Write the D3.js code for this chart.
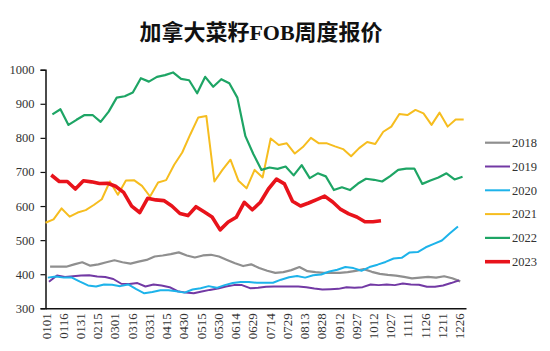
<!DOCTYPE html>
<html>
<head>
<meta charset="utf-8">
<script src="https://cdn.jsdelivr.net/npm/d3@7/dist/d3.min.js"></script>
<style>
    body { margin: 0; background: #fff; }
    .axis text { font-family: "Liberation Serif", "DejaVu Serif", serif; fill: #333; }
    .title { font-family: "Liberation Serif", "Noto Sans CJK SC", serif; font-weight: bold; }
    .legend text { font-family: "Liberation Serif", serif; fill: #333; }
</style>
</head>
<body>
<div id="chart"></div>
<script>
// 周度报价，每年的每个周五一个点
var years = [2018, 2019, 2020, 2021, 2022, 2023];

var price2018 = [422, 422, 422, 429, 435, 425, 429, 435, 441, 435, 431, 437, 442, 452, 455, 459, 464, 455, 449, 455,
    457, 452, 442, 432, 424, 429, 418, 410, 404, 406, 412, 421, 409, 406, 404, 404, 404, 406, 410, 415,
    407, 401, 398, 396, 392, 388, 390, 392, 390, 394, 388, 379];
var price2019 = [378, 396, 392, 394, 396, 397, 393, 392, 386, 372, 371, 374, 364, 370, 367, 362, 350, 346, 344, 349,
    354, 358, 364, 368, 368, 359, 360, 363, 364, 364, 364, 364, 362, 358, 355, 356, 357, 362, 360, 362,
    370, 368, 370, 368, 373, 370, 369, 363, 363, 367, 374, 382];
var price2020 = [390, 393, 390, 390, 378, 367, 364, 370, 369, 365, 370, 356, 344, 348, 353, 353, 350, 346, 355, 359,
    365, 360, 368, 374, 377, 377, 375, 375, 375, 384, 391, 395, 390, 397, 399, 408, 413, 421, 418, 410,
    421, 428, 436, 446, 448, 464, 465, 479, 489, 499, 520, 540];
var price2021 = [551, 561, 593, 569, 581, 588, 603, 620, 672, 633, 675, 676, 659, 628, 669, 676, 721, 757, 810, 860,
    864, 672, 706, 736, 674, 652, 706, 684, 798, 779, 784, 754, 773, 800, 784, 784, 775, 767, 746, 770,
    788, 782, 818, 833, 870, 867, 882, 872, 838, 874, 833, 854, 854];
var price2022 = [869, 884, 838, 853, 867, 867, 847, 877, 918, 922, 933, 975, 965, 979, 984, 992, 973, 969, 931, 979,
    950, 972, 960, 918, 805, 752, 706, 713, 709, 716, 690, 720, 682, 696, 687, 647, 655, 647, 666, 680,
    677, 672, 688, 706, 710, 710, 665, 675, 684, 696, 678, 686];
var price2023 = [691, 672, 672, 650, 674, 671, 666, 667, 658, 640, 600, 581, 623, 618, 616, 600, 578, 572, 598, 583,
    568, 530, 553, 567, 611, 589, 611, 650, 679, 665, 614, 600, 609, 619, 629, 612, 590, 577, 568, 554,
    554, 557];

var yTicks = [300, 400, 500, 600, 700, 800, 900, 1000];
var xTickLabels = ["0101", "0116", "0131", "0215", "0301", "0316", "0331", "0415", "0430", "0515", "0530", "0614",
    "0629", "0714", "0729", "0813", "0828", "0912", "0927", "1012", "1027", "1111", "1126", "1211", "1226"];

var colors = ["#8f8f8f", "#7239a4", "#1db3ea", "#f6bd1f", "#1ea565", "#e8131b"];
var widths = [2.2, 2, 2, 2, 2.2, 3.6];

var cfg = {
    w: 550,
    h: 351,
    left: 45.5,
    right: 466,
    top: 69.7,
    bottom: 308.3
};

var series = [price2018, price2019, price2020, price2021, price2022, price2023].map(function (vals, k) {
    var y0 = new Date(years[k], 0, 1);
    var firstDay = d3.timeDay.count(y0, d3.timeFriday.ceil(y0));
    return {
        year: years[k],
        values: vals.map(function (v, i) { return { day: firstDay + 7 * i, price: v }; })
    };
});

var svg = d3.select("#chart").append("svg")
    .attr("width", cfg.w)
    .attr("height", cfg.h);

var x = d3.scaleLinear().domain([0, 366]).range([cfg.left, cfg.right]);
var y = d3.scaleLinear().domain([300, 1000]).range([cfg.bottom, cfg.top]);

// 标题
svg.append("text")
    .attr("class", "title")
    .attr("x", 261)
    .attr("y", 40)
    .attr("text-anchor", "middle")
    .style("font-size", "22px")
    .style("fill", "#111")
    .text("加拿大菜籽FOB周度报价");

// y轴
svg.append("g")
    .attr("class", "axis")
    .attr("transform", "translate(" + cfg.left + ",0)")
    .call(d3.axisLeft(y).tickValues(yTicks).tickFormat(d3.format("d")).tickSize(5).tickPadding(6))
    .call(function (g) {
        g.select(".domain").attr("stroke", "#111").attr("stroke-width", 1.5);
        g.selectAll(".tick line").attr("stroke", "#111").attr("stroke-width", 1.2);
        g.selectAll(".tick text").style("font-size", "12.5px");
    });

// x轴 (15天一个刻度)
svg.append("g")
    .attr("class", "axis")
    .attr("transform", "translate(0," + cfg.bottom + ")")
    .call(d3.axisBottom(x)
        .tickValues(xTickLabels.map(function (d, i) { return i * 15; }))
        .tickFormat(function (d, i) { return xTickLabels[i]; })
        .tickSize(0)
        .tickSizeOuter(0))
    .call(function (g) {
        g.select(".domain").attr("stroke", "#111").attr("stroke-width", 1.5);
        g.selectAll(".tick text")
            .attr("transform", "rotate(-90)")
            .attr("y", 0)
            .attr("x", -5)
            .attr("dy", "0.35em")
            .style("text-anchor", "end")
            .style("font-size", "13px");
    });

var line = d3.line()
    .x(function (d) { return x(d.day); })
    .y(function (d) { return y(d.price); });

svg.selectAll(".series")
    .data(series)
    .enter()
    .append("path")
    .attr("class", "series")
    .attr("fill", "none")
    .attr("stroke", function (d, i) { return colors[i]; })
    .attr("stroke-width", function (d, i) { return widths[i]; })
    .attr("stroke-linejoin", "round")
    .attr("d", function (d) { return line(d.values); });

// 图例
var legend = svg.append("g")
    .attr("class", "legend")
    .selectAll("g")
    .data(series)
    .enter()
    .append("g")
    .attr("transform", function (d, i) { return "translate(485," + (142.7 + i * 23.8) + ")"; });

legend.append("line")
    .attr("x1", 0)
    .attr("x2", 25)
    .attr("stroke", function (d, i) { return colors[i]; })
    .attr("stroke-width", function (d, i) { return widths[i]; });

legend.append("text")
    .attr("x", 27)
    .attr("dy", "0.35em")
    .style("font-size", "12.5px")
    .text(function (d) { return d.year; });
</script>
</body>
</html>
